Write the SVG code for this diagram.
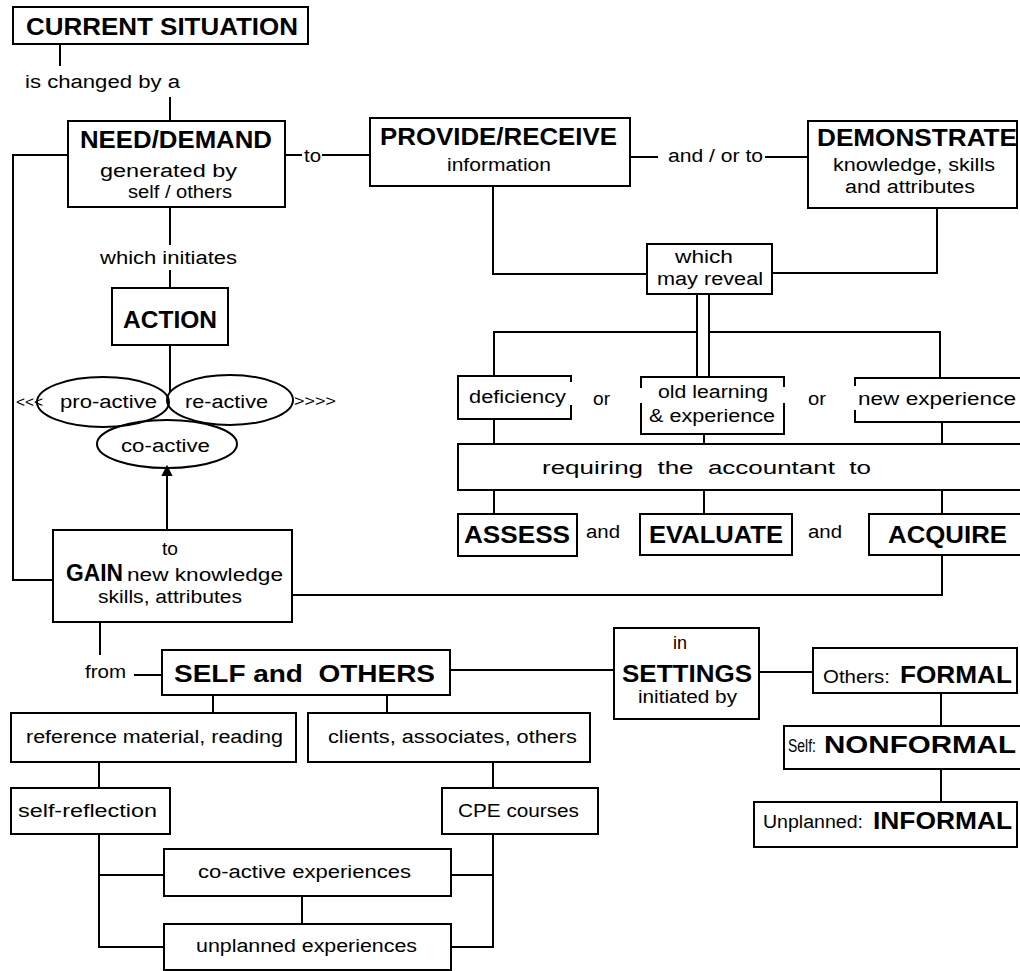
<svg xmlns="http://www.w3.org/2000/svg" width="1020" height="971" viewBox="0 0 1020 971">
<style>
.bx{fill:#fff;stroke:#000;stroke-width:2}
.ln{fill:none;stroke:#000;stroke-width:2}
text{font-family:"Liberation Sans",Arial,Helvetica,sans-serif;font-size:18px;fill:#000}
.b{font-weight:bold;font-size:24px}
.s{font-size:15px}
</style>
<rect width="1020" height="971" fill="#fff"/>
<g id="connectors" class="ln">
<path d="M60,44V66"/>
<path d="M170,97V121"/>
<path d="M68,155H13V580H53"/>
<path d="M285,155H302M322,155H370"/>
<path d="M630,157H658M765,157H808"/>
<path d="M170,207V245M170,270V288"/>
<path d="M170,345V392"/>
<path d="M167,472V530"/>
<path d="M292,595H942V555"/>
<path d="M493,186V274H647"/>
<path d="M937,208V273H772"/>
<path d="M697,294V377M709,294V377"/>
<path d="M494,376V332H697M709,332H940V378"/>
<path d="M494,419V444M704,434V444M942,422V444"/>
<path d="M494,490V514M704,490V514M942,490V514"/>
<path d="M100,622V655"/>
<path d="M134,675H162"/>
<path d="M450,670H614"/>
<path d="M759,672H813"/>
<path d="M941,693V726M941,769V802"/>
<path d="M213,695V713M387,695V713"/>
<path d="M99,762V788M493,762V788"/>
<path d="M99,834V947H164M99,875H164"/>
<path d="M493,834V947H451M451,875H493"/>
<path d="M302,896V924"/>
<path d="M167,467l-4,8h8z" fill="#000"/>
</g>
<g id="current-situation">
<rect class="bx" x="13" y="7" width="295" height="37"/>
<text class="b" x="26" y="35" font-size="26" textLength="272" lengthAdjust="spacingAndGlyphs">CURRENT SITUATION</text>
</g>
<g id="label-changed"><text x="25" y="88" textLength="155" lengthAdjust="spacingAndGlyphs">is changed by a</text></g>
<g id="need-demand">
<rect class="bx" x="68" y="121" width="217" height="86"/>
<text class="b" x="80" y="148" textLength="192" lengthAdjust="spacingAndGlyphs">NEED/DEMAND</text>
<text x="100" y="177" textLength="137" lengthAdjust="spacingAndGlyphs">generated by</text>
<text x="128" y="198" textLength="104" lengthAdjust="spacingAndGlyphs">self / others</text>
</g>
<g id="label-to"><text x="304" y="162" textLength="17" lengthAdjust="spacingAndGlyphs">to</text></g>
<g id="provide-receive">
<rect class="bx" x="370" y="118" width="260" height="68"/>
<text class="b" x="380" y="145" textLength="237" lengthAdjust="spacingAndGlyphs">PROVIDE/RECEIVE</text>
<text x="447" y="171" textLength="104" lengthAdjust="spacingAndGlyphs">information</text>
</g>
<g id="label-andor"><text x="668" y="162" textLength="95" lengthAdjust="spacingAndGlyphs">and / or to</text></g>
<g id="demonstrate">
<rect class="bx" x="808" y="121" width="209" height="87"/>
<text class="b" x="817" y="146" textLength="200" lengthAdjust="spacingAndGlyphs">DEMONSTRATE</text>
<text x="833" y="171" textLength="162" lengthAdjust="spacingAndGlyphs">knowledge, skills</text>
<text x="845" y="193" textLength="130" lengthAdjust="spacingAndGlyphs">and attributes</text>
</g>
<g id="which-may-reveal">
<rect class="bx" x="647" y="244" width="125" height="50"/>
<text x="675" y="263" textLength="58" lengthAdjust="spacingAndGlyphs">which</text>
<text x="657" y="285" textLength="106" lengthAdjust="spacingAndGlyphs">may reveal</text>
</g>
<g id="label-initiates"><text x="100" y="264" textLength="137" lengthAdjust="spacingAndGlyphs">which initiates</text></g>
<g id="action">
<rect class="bx" x="112" y="288" width="116" height="57"/>
<text class="b" x="123" y="328" textLength="94" lengthAdjust="spacingAndGlyphs">ACTION</text>
</g>
<g id="pro-active">
<ellipse class="ln" cx="103" cy="402" rx="66" ry="25"/>
<text x="60" y="408" textLength="97" lengthAdjust="spacingAndGlyphs">pro-active</text>
</g>
<g id="re-active">
<ellipse class="ln" cx="230" cy="400" rx="63" ry="25"/>
<text x="185" y="408" textLength="83" lengthAdjust="spacingAndGlyphs">re-active</text>
</g>
<g id="co-active">
<ellipse class="ln" cx="167" cy="444" rx="70" ry="24"/>
<text x="121" y="452" textLength="89" lengthAdjust="spacingAndGlyphs">co-active</text>
</g>
<g id="arrows-left"><text class="s" x="16" y="407" textLength="27" lengthAdjust="spacingAndGlyphs">&lt;&lt;&lt;</text></g>
<g id="arrows-right"><text class="s" x="294" y="406" textLength="42" lengthAdjust="spacingAndGlyphs">&gt;&gt;&gt;&gt;</text></g>
<g id="gain">
<rect class="bx" x="53" y="530" width="239" height="92"/>
<text x="162" y="555" textLength="16" lengthAdjust="spacingAndGlyphs">to</text>
<text class="b" x="66" y="581" textLength="57" lengthAdjust="spacingAndGlyphs">GAIN</text>
<text x="127" y="581" textLength="156" lengthAdjust="spacingAndGlyphs">new knowledge</text>
<text x="98" y="603" textLength="144" lengthAdjust="spacingAndGlyphs">skills, attributes</text>
</g>
<g id="deficiency">
<path class="ln" d="M571,382V376H458V419H571V405"/>
<text x="469" y="403" textLength="97" lengthAdjust="spacingAndGlyphs">deficiency</text>
</g>
<g id="label-or1"><text x="593" y="405" textLength="17" lengthAdjust="spacingAndGlyphs">or</text></g>
<g id="old-learning">
<path class="ln" d="M641,388V377H784V387M784,403V434H641V403"/>
<text x="658" y="398" textLength="110" lengthAdjust="spacingAndGlyphs">old learning</text>
<text x="649" y="422" textLength="126" lengthAdjust="spacingAndGlyphs">&amp; experience</text>
</g>
<g id="label-or2"><text x="808" y="405" textLength="18" lengthAdjust="spacingAndGlyphs">or</text></g>
<g id="new-experience">
<path class="ln" d="M855,386V378H1022M1022,422H855V410"/>
<text x="858" y="405" textLength="158" lengthAdjust="spacingAndGlyphs">new experience</text>
</g>
<g id="requiring">
<rect class="bx" x="458" y="444" width="570" height="46"/>
<text x="542" y="474" font-size="20" textLength="329" lengthAdjust="spacingAndGlyphs" style="white-space:pre">requiring  the  accountant  to</text>
</g>
<g id="assess">
<rect class="bx" x="458" y="514" width="119" height="42"/>
<text class="b" x="464" y="543" textLength="106" lengthAdjust="spacingAndGlyphs">ASSESS</text>
</g>
<g id="label-and1"><text x="586" y="538" font-size="16" textLength="34" lengthAdjust="spacingAndGlyphs">and</text></g>
<g id="evaluate">
<rect class="bx" x="640" y="514" width="152" height="41"/>
<text class="b" x="649" y="543" textLength="134" lengthAdjust="spacingAndGlyphs">EVALUATE</text>
</g>
<g id="label-and2"><text x="808" y="538" font-size="16" textLength="34" lengthAdjust="spacingAndGlyphs">and</text></g>
<g id="acquire">
<rect class="bx" x="869" y="514" width="160" height="41"/>
<text class="b" x="888" y="543" textLength="119" lengthAdjust="spacingAndGlyphs">ACQUIRE</text>
</g>
<g id="label-from"><text x="85" y="678" textLength="41" lengthAdjust="spacingAndGlyphs">from</text></g>
<g id="self-others">
<rect class="bx" x="162" y="650" width="288" height="45"/>
<text class="b" x="174" y="682" textLength="261" lengthAdjust="spacingAndGlyphs" style="white-space:pre">SELF and  OTHERS</text>
</g>
<g id="settings">
<rect class="bx" x="614" y="628" width="145" height="91"/>
<text x="673" y="649" textLength="14" lengthAdjust="spacingAndGlyphs">in</text>
<text class="b" x="622" y="682" font-size="25" textLength="130" lengthAdjust="spacingAndGlyphs">SETTINGS</text>
<text x="638" y="703" textLength="99" lengthAdjust="spacingAndGlyphs">initiated by</text>
</g>
<g id="formal">
<rect class="bx" x="813" y="648" width="204" height="45"/>
<text x="823" y="683" font-size="17" textLength="67" lengthAdjust="spacingAndGlyphs">Others:</text>
<text class="b" x="900" y="683" textLength="112" lengthAdjust="spacingAndGlyphs">FORMAL</text>
</g>
<g id="nonformal">
<rect class="bx" x="784" y="726" width="244" height="43"/>
<text x="788" y="752" font-size="16" textLength="28" lengthAdjust="spacingAndGlyphs">Self:</text>
<text class="b" x="824" y="753" font-size="26" textLength="192" lengthAdjust="spacingAndGlyphs">NONFORMAL</text>
</g>
<g id="informal">
<rect class="bx" x="754" y="802" width="263" height="45"/>
<text x="763" y="828" textLength="100" lengthAdjust="spacingAndGlyphs">Unplanned:</text>
<text class="b" x="873" y="829" font-size="26" textLength="139" lengthAdjust="spacingAndGlyphs">INFORMAL</text>
</g>
<g id="reference-material">
<rect class="bx" x="11" y="713" width="285" height="49"/>
<text x="26" y="743" textLength="257" lengthAdjust="spacingAndGlyphs">reference material, reading</text>
</g>
<g id="clients">
<rect class="bx" x="308" y="713" width="282" height="49"/>
<text x="328" y="743" textLength="249" lengthAdjust="spacingAndGlyphs">clients, associates, others</text>
</g>
<g id="self-reflection">
<rect class="bx" x="11" y="788" width="159" height="46"/>
<text x="18" y="817" textLength="139" lengthAdjust="spacingAndGlyphs">self-reflection</text>
</g>
<g id="cpe-courses">
<rect class="bx" x="442" y="788" width="156" height="46"/>
<text x="458" y="817" textLength="121" lengthAdjust="spacingAndGlyphs">CPE courses</text>
</g>
<g id="co-active-experiences">
<rect class="bx" x="164" y="849" width="287" height="47"/>
<text x="198" y="878" textLength="213" lengthAdjust="spacingAndGlyphs">co-active experiences</text>
</g>
<g id="unplanned-experiences">
<rect class="bx" x="164" y="924" width="287" height="46"/>
<text x="196" y="952" textLength="221" lengthAdjust="spacingAndGlyphs">unplanned experiences</text>
</g>
</svg>
